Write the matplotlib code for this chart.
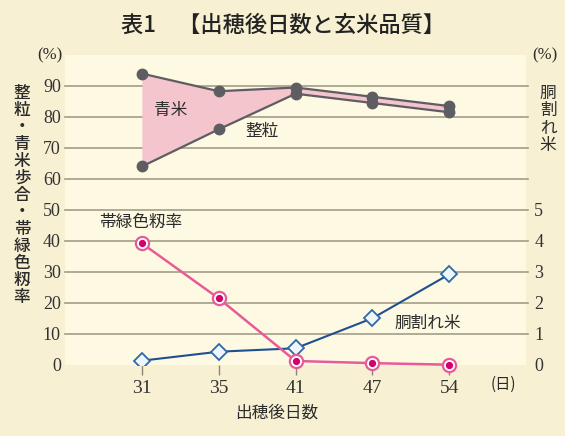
import numpy as np
import matplotlib.pyplot as plt

JP = ["Noto Sans CJK JP", "DejaVu Sans"]
NUM = ["Liberation Serif", "DejaVu Serif"]

days = ["31", "35", "41", "47", "54"]
seiryu_aomai = [94.0, 88.3, 89.5, 86.5, 83.5]   # 整粒+青米 (上の線)
seiryu = [64.0, 76.0, 87.5, 84.5, 81.5]          # 整粒
taikoku = [39.2, 21.4, 1.2, 0.5, 0.0]            # 帯緑色籾率
dowaremai = [0.13, 0.42, 0.53, 1.5, 2.92]        # 胴割れ米 (右軸)
left_ticks = [0, 10, 20, 30, 40, 50, 60, 70, 80, 90]
right_ticks = [0, 1, 2, 3, 4, 5]

W, H = 565, 436
fig = plt.figure(figsize=(W / 100, H / 100), dpi=100, facecolor="#f7f0d3")
x0, x1, y0, y1 = 65, 526, 55, 364.7
ax = fig.add_axes([x0 / W, 1 - y1 / H, (x1 - x0) / W, (y1 - y0) / H])
ax.set_facecolor("#fdf9e2")
x = np.arange(len(days))
ax.set_xlim(-1.0, 4 + (x1 - 449.3) / 76.9)
ax.set_ylim(0, 100)

for s in ax.spines.values():
    s.set_visible(False)

grid_c = "#a39d88"
for v in left_ticks[1:]:
    ax.axhline(v, color=grid_c, lw=1.2, zorder=1, clip_on=False, xmax=1.004)

# 青米の帯
ax.fill_between(x, seiryu, seiryu_aomai, color="#f5c5ce", zorder=2, lw=0)
ax.plot(x, seiryu_aomai, color="#5d5d62", lw=1.6, marker="o", ms=7.5, zorder=3)
ax.plot(x, seiryu, color="#5d5d62", lw=1.6, marker="o", ms=7.5, zorder=3)

# 胴割れ米 (右軸 0-10 -> 左軸換算 x10)
ax.plot(x, np.array(dowaremai) * 10, color="#1f4f8f", lw=1.5, marker="D", ms=8,
        mfc="#eef6fb", mec="#2f6aa8", mew=1.3, zorder=4)

# 帯緑色籾率
ax.plot(x, taikoku, color="#e95a98", lw=1.8, marker="o", ms=9.5,
        mfc="white", mec="#e95a98", mew=1.6, zorder=5, clip_on=False)
ax.plot(x, taikoku, ls="none", marker="o", ms=4.2, color="#d4006c", zorder=6, clip_on=False)

ax.set_xticks(x)
ax.set_xticklabels(days, fontfamily=NUM, fontsize=14, color="#333333")
ax.tick_params(axis="x", length=7, width=1, color="#8a8578", pad=4)
ax.set_yticks(left_ticks)
ax.set_yticklabels([str(v) for v in left_ticks], fontfamily=NUM, fontsize=13, color="#333333")
ax.tick_params(axis="y", length=0, pad=3)

ax2 = ax.twinx()
for s in ax2.spines.values():
    s.set_visible(False)
ax2.set_ylim(0, 10)
ax2.set_yticks(right_ticks)
ax2.set_yticklabels([str(v) for v in right_ticks], fontfamily=NUM, fontsize=13, color="#333333")
ax2.tick_params(axis="y", length=0, pad=6)


def px(xp, yp):
    return xp / W, 1 - yp / H


tc = "#2b2b2b"
fig.text(*px(283, 25), "表1\u3000【出穂後日数と玄米品質】", family=JP, fontsize=16,
         fontweight="medium", ha="center", va="center", color="#222222")
fig.text(*px(50, 55), "(%)", family=NUM, fontsize=12, ha="center", va="center", color=tc)
fig.text(*px(545, 55), "(%)", family=NUM, fontsize=12, ha="center", va="center", color=tc)
fig.text(*px(503, 384), "(日)", family=JP, fontsize=11, ha="center", va="center", color=tc)
fig.text(*px(277, 413), "出穂後日数", family=JP, fontsize=12, ha="center", va="center", color=tc)

ylab = "整粒・青米歩合・帯緑色籾率"
for i, ch in enumerate(ylab):
    fig.text(*px(22, 93.3 + i * 16.95), ch, family=JP, fontsize=12, fontweight="medium",
             ha="center", va="center", color=tc)
rlab = "胴割れ米"
for i, ch in enumerate(rlab):
    fig.text(*px(548, 93 + i * 17.5), ch, family=JP, fontsize=12,
             ha="center", va="center", color=tc)

fig.text(*px(171, 111), "青米", family=JP, fontsize=12, ha="center", va="center", color=tc)
fig.text(*px(262, 131), "整粒", family=JP, fontsize=12, ha="center", va="center", color=tc)
fig.text(*px(141, 222), "帯緑色籾率", family=JP, fontsize=12, ha="center", va="center", color=tc)
fig.text(*px(428, 323), "胴割れ米", family=JP, fontsize=12, ha="center", va="center", color=tc)

fig.savefig("out.png", dpi=100, facecolor=fig.get_facecolor())
